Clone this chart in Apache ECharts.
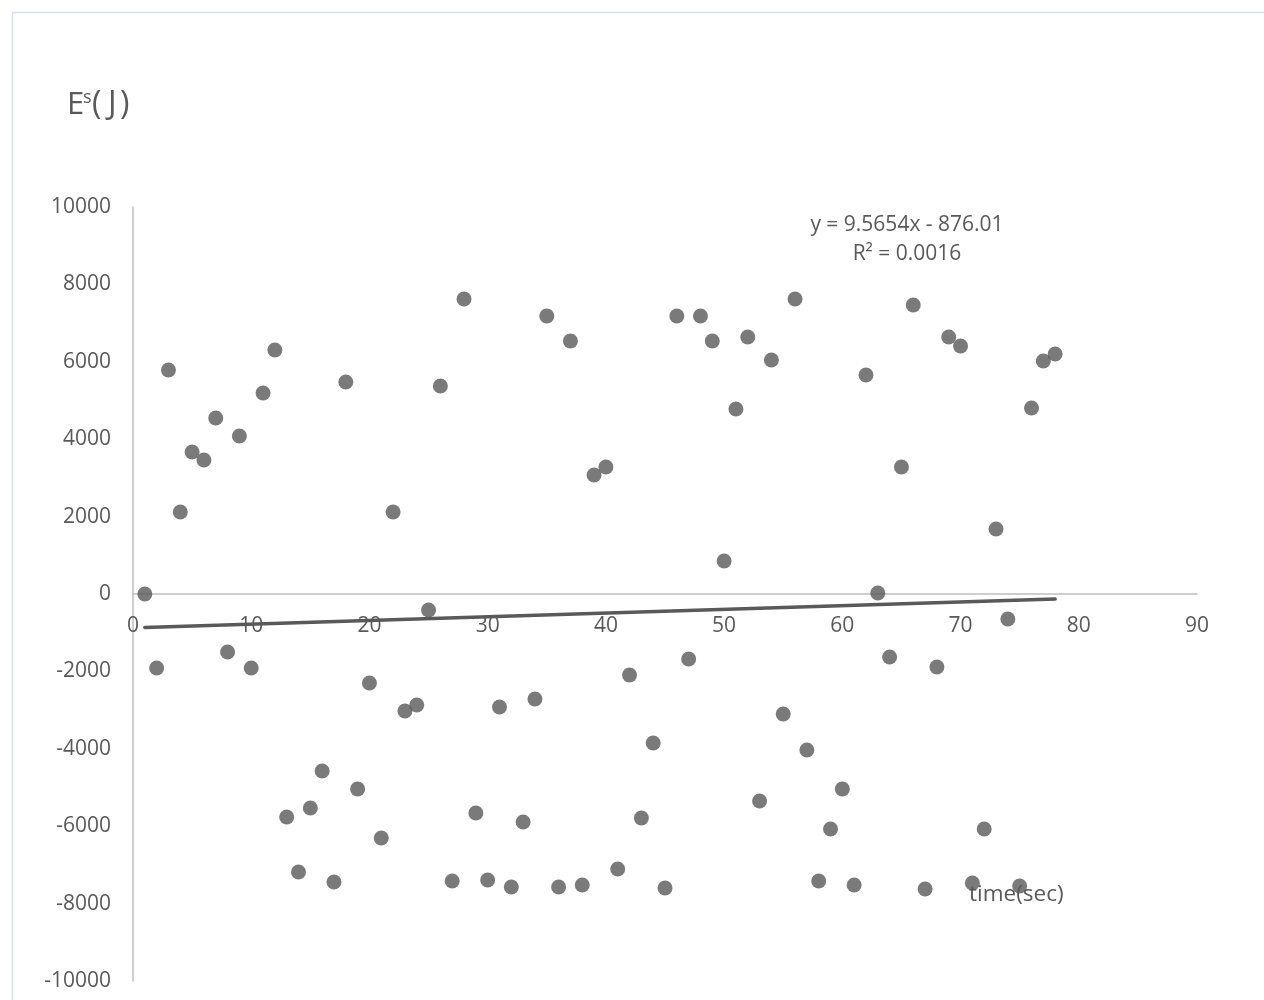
<!DOCTYPE html>
<html>
<head>
<meta charset="utf-8">
<script src="https://cdn.jsdelivr.net/npm/echarts@6/dist/echarts.min.js"></script>
<style>
  html, body { margin: 0; padding: 0; background: #fff; }
  #chart { width: 1264px; height: 1000px; }
</style>
</head>
<body>
<div id="chart"></div>
<script>
// Elapsed time (s) and measured energy (J)
const timeSec = [
  1, 2, 3, 4, 5, 6, 7, 8, 9, 10, 11, 12, 13, 14, 15, 16, 17, 18, 19, 20,
  21, 22, 23, 24, 25, 26, 27, 28, 29, 30, 31, 32, 33, 34, 35, 36, 37, 38, 39, 40,
  41, 42, 43, 44, 45, 46, 47, 48, 49, 50, 51, 52, 53, 54, 55, 56, 57, 58, 59, 60,
  61, 62, 63, 64, 65, 66, 67, 68, 69, 70, 71, 72, 73, 74, 75, 76, 77, 78
];
const energyJ = [
  0, -1912, 5788, 2119, 3669, 3463, 4548, -1499, 4083, -1912,
  5194, 6305, -5762, -7183, -5530, -4574, -7442, 5478, -5039, -2300,
  -6305, 2119, -3023, -2868, -413, 5375, -7416, 7623, -5659, -7390,
  -2920, -7571, -5891, -2713, 7183, -7571, 6537, -7519, 3075, 3282,
  -7106, -2093, -5788, -3850, -7597, 7183, -1680, 7183, 6537, 853,
  4780, 6641, -5349, 6047, -3101, 7623, -4031, -7416, -6072, -5039,
  -7519, 5659, 26, -1628, 3282, 7468, -7623, -1886, 6641, 6408,
  -7468, -6072, 1680, -646, -7545, 4806, 6021, 6202
];
// Linear fit: y = slope * x + intercept
const fitSlope = [9.5654];
const fitIntercept = [-876.01];
const fitLabel = ['y = 9.5654x - 876.01', 'R² = 0.0016'];

const xTicks = [0, 90, 10];
const yTicks = [-10000, 10000, 2000];

const points = timeSec.map((t, i) => [t, energyJ[i]]);
const x0 = timeSec[0], x1 = timeSec[timeSec.length - 1];
const fitLine = [
  [x0, fitSlope[0] * x0 + fitIntercept[0]],
  [x1, fitSlope[0] * x1 + fitIntercept[0]]
];

const FONT = 'Open Sans';
const GREY = '#595959';
const AXIS_GREY = '#bfbfbf';
const plainNum = v => String(v);

// Plot area, plus a twin area ending at y = 0 that carries the x tick labels
const plotLeft = 133, plotRight = 67, plotTop = 207, plotBottom = 19;
const zeroFrac = (yTicks[1] - 0) / (yTicks[1] - yTicks[0]);
const plotH = 1000 - plotTop - plotBottom;
const zeroY = plotTop + plotH * zeroFrac;

const chart = echarts.init(document.getElementById('chart'), null, { renderer: 'canvas' });
chart.setOption({
  animation: false,
  backgroundColor: '#fff',
  grid: [
    { left: plotLeft, right: plotRight, top: plotTop, bottom: plotBottom, outerBoundsMode: 'none', containLabel: false },
    { left: plotLeft, right: plotRight, top: plotTop, bottom: 1000 - zeroY, outerBoundsMode: 'none', containLabel: false }
  ],
  xAxis: [
    {
      type: 'value', gridIndex: 0,
      min: xTicks[0], max: xTicks[1], interval: xTicks[2],
      axisLine: { onZero: true, lineStyle: { color: AXIS_GREY, width: 1.5 } },
      axisTick: { show: false },
      splitLine: { show: false },
      axisLabel: { show: false }
    },
    {
      type: 'value', gridIndex: 1,
      min: xTicks[0], max: xTicks[1], interval: xTicks[2],
      axisLine: { show: false, onZero: false },
      axisTick: { show: false },
      splitLine: { show: false },
      axisLabel: { color: GREY, fontFamily: FONT, fontSize: 21, margin: 22, formatter: plainNum }
    }
  ],
  yAxis: [
    {
      type: 'value', gridIndex: 0,
      min: yTicks[0], max: yTicks[1], interval: yTicks[2],
      axisLine: { show: true, onZero: false, lineStyle: { color: AXIS_GREY, width: 1.5 } },
      axisTick: { show: false },
      splitLine: { show: false },
      axisLabel: { color: GREY, fontFamily: FONT, fontSize: 21, margin: 22, formatter: plainNum }
    },
    {
      type: 'value', gridIndex: 1, show: false,
      min: 0, max: 1
    }
  ],
  series: [
    {
      type: 'scatter',
      xAxisIndex: 0, yAxisIndex: 0,
      data: points,
      symbol: 'circle',
      symbolSize: 15,
      itemStyle: { color: GREY },
      z: 3
    },
    {
      type: 'line',
      xAxisIndex: 0, yAxisIndex: 0,
      data: fitLine,
      symbol: 'none',
      lineStyle: { color: GREY, width: 3.5, cap: 'round' },
      z: 2
    }
  ],
  graphic: [
    {
      type: 'rect', left: 10, top: 10, silent: true,
      shape: { width: 1270, height: 1010 },
      style: { fill: 'none', stroke: '#d6def3', lineWidth: 1.5 }
    },
    // y-axis title: E with a raised s, then (J)
    {
      type: 'text', left: 67, top: 90,
      style: { text: 'E', fill: GREY, font: '31px "Open Sans"' }
    },
    {
      type: 'text', left: 83, top: 89,
      style: { text: 's', fill: GREY, font: '18px "Open Sans"' }
    },
    {
      type: 'text', left: 92, top: 89,
      style: { text: '(', fill: GREY, font: '32px "Open Sans"' }
    },
    {
      type: 'text', left: 108, top: 89,
      style: { text: 'J', fill: GREY, font: '32px "Open Sans"' }
    },
    {
      type: 'text', left: 120, top: 89,
      style: { text: ')', fill: GREY, font: '32px "Open Sans"' }
    },
    {
      type: 'text', left: 969, top: 883,
      style: { text: 'time(sec)', fill: GREY, font: '22.5px "Open Sans"' }
    },
    {
      type: 'text', x: 907, y: 211,
      style: {
        text: fitLabel.join('\n'), fill: GREY, font: '21px "Open Sans"',
        align: 'center', lineHeight: 29
      }
    }
  ]
});
</script>
</body>
</html>
